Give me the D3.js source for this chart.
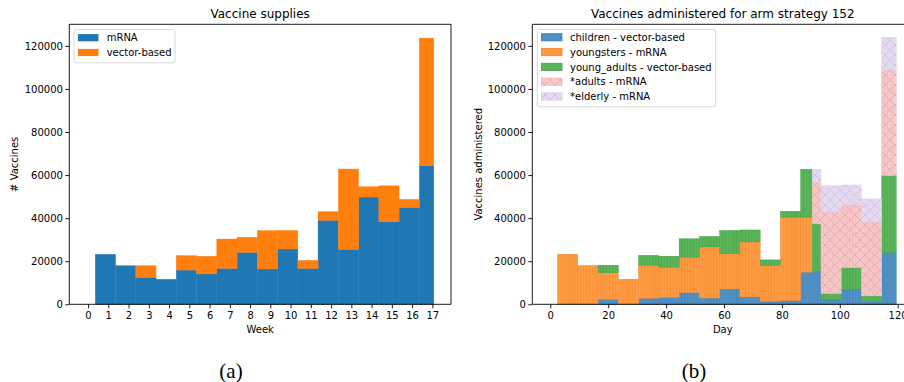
<!DOCTYPE html>
<html>
<head>
<meta charset="utf-8">
<script src="https://cdn.jsdelivr.net/npm/d3@7"></script>
<style>
  html, body { margin: 0; padding: 0; background: #fff; }
  svg { display: block; }
  text { font-family: "DejaVu Sans", sans-serif; fill: #000; }
</style>
</head>
<body>
<svg id="fig" width="904" height="382"></svg>
<script>
// ---- Weekly vaccine supplies (panel a) ----
const weeks = d3.range(1, 18);                 // supply weeks 1..17
const weekTicks = d3.range(0, 18);
const supplyMRNA   = [23200, 17900, 12500, 11600, 15900, 14100, 16700, 24100, 16400,
                      25700, 16700, 39000, 25500, 49800, 38300, 45000, 64300];
const supplyVector = [0, 0, 5400, 0, 6700, 8200, 13600, 7000, 17800,
                      8600, 3700, 4000, 37300, 4800, 16700, 3700, 59300];
const lastDay = 119;

// ---- Daily vaccines administered (panel b), constant over each period ----
const periodStart  = [3, 10, 17, 24, 31, 38, 45, 52, 59, 66, 73, 80, 87, 91, 94, 101, 108, 115];
const children     = [0, 0, 2300, 0, 2800, 3200, 5400, 2900, 7100, 3400, 1400, 1700, 14900, 15100, 2000, 7000, 1300, 24000];
const youngsters   = [23200, 17900, 12400, 11600, 15400, 14100, 16500, 23800, 16400, 25600, 16700, 38800, 25600, 0, 0, 0, 0, 0];
const youngAdults  = [0, 0, 3400, 0, 4500, 5000, 8500, 4700, 10700, 5500, 2500, 2600, 22100, 22200, 3000, 10000, 2600, 35700];
const adults       = [0, 0, 0, 0, 0, 0, 0, 0, 0, 0, 0, 0, 0, 19300, 37900, 29100, 34300, 49000];
const elderly      = [0, 0, 0, 0, 0, 0, 0, 0, 0, 0, 0, 0, 0, 6000, 12100, 9300, 10700, 15200];
const groupNames   = ["children - vector-based", "youngsters - mRNA", "young_adults - vector-based",
                      "*adults - mRNA", "*elderly - mRNA"];
const yTicks = [0, 20000, 40000, 60000, 80000, 100000, 120000];
const dayTicks = [0, 20, 40, 60, 80, 100, 120];

const svg = d3.select("#fig");
const defs = svg.append("defs");

// cross hatches for the starred groups
function hatch(id, bg, line) {
  const p = defs.append("pattern").attr("id", id)
    .attr("patternUnits", "userSpaceOnUse").attr("width", 10).attr("height", 10);
  p.append("rect").attr("width", 10).attr("height", 10).attr("fill", bg);
  p.append("path").attr("d", "M0,0L10,10M10,0L0,10M-1,9L1,11M9,-1L11,1")
    .attr("stroke", line).attr("stroke-width", 0.8).attr("fill", "none");
}
hatch("hatchAdults", "#f6caca", "#e9a3a3");
hatch("hatchElderly", "#e6dcf0", "#cdb9e2");

const groupStyle = [
  { fill: "#4f91c4", edge: "#3a7db3" },
  { fill: "#ff9a40", edge: "#f0862a" },
  { fill: "#5ab55a", edge: "#3f9e3f" },
  { fill: "url(#hatchAdults)", edge: "#eeb3b3" },
  { fill: "url(#hatchElderly)", edge: "#dccdea" }
];

// ---- common axes helpers ----
const yTop = 24.3, yBot = 304.3;
const y = d3.scaleLinear().domain([0, 130000]).range([yBot, yTop]);

function frame(g, x0, x1, sides) {
  const lines = {
    left:   [x0, yTop, x0, yBot],
    right:  [x1, yTop, x1, yBot],
    top:    [x0, yTop, x1, yTop],
    bottom: [x0, yBot, x1, yBot]
  };
  sides.forEach(s => {
    const l = lines[s];
    g.append("line").attr("x1", l[0]).attr("y1", l[1]).attr("x2", l[2]).attr("y2", l[3])
      .attr("stroke", "#000").attr("stroke-width", 0.9);
  });
}

function styleAxis(g) {
  g.select(".domain").remove();
  g.selectAll(".tick line").attr("stroke", "#000").attr("stroke-width", 0.9);
  g.selectAll(".tick text").attr("font-size", 10).attr("fill", "#000")
    .attr("font-family", "DejaVu Sans, sans-serif");
}

function legend(g, x, yb, w, items, patchX, textX) {
  const h = items.length * 14.8 + 3.5;
  g.append("rect").attr("x", x).attr("y", yb).attr("width", w).attr("height", h)
    .attr("rx", 2.5).attr("fill", "#fff").attr("fill-opacity", 0.85)
    .attr("stroke", "#d5d5d5").attr("stroke-width", 0.9);
  items.forEach((it, i) => {
    const cy = yb + 8 + i * 14.8;
    g.append("rect").attr("x", patchX).attr("y", cy - 3.6).attr("width", 20.5).attr("height", 7.2)
      .attr("fill", it.fill).attr("stroke", it.edge || "none").attr("stroke-width", 0.8);
    g.append("text").attr("x", textX).attr("y", cy).attr("dy", "0.36em")
      .attr("font-size", 10).text(it.label);
  });
}

// ================= Panel (a): weekly supplies =================
{
  const x0 = 69.3, x1 = 451;
  const x = d3.scaleLinear().domain([-0.926, 17.92]).range([x0, x1]);
  const g = svg.append("g");

  const rows = weeks.map((w, i) => {
    const first = 7 * w - 4, last = Math.min(7 * w + 2, lastDay);
    return { a: (first - 0.5) / 7, b: (last + 0.5) / 7, m: supplyMRNA[i], v: supplyVector[i] };
  });

  g.selectAll("rect.m").data(rows).join("rect").attr("class", "m")
    .attr("x", d => x(d.a)).attr("width", d => x(d.b) - x(d.a))
    .attr("y", d => y(d.m)).attr("height", d => y(0) - y(d.m))
    .attr("fill", "#1f77b4").attr("stroke", "#1f77b4").attr("stroke-width", 0.4);
  g.selectAll("rect.v").data(rows.filter(d => d.v > 0)).join("rect").attr("class", "v")
    .attr("x", d => x(d.a)).attr("width", d => x(d.b) - x(d.a))
    .attr("y", d => y(d.m + d.v)).attr("height", d => y(d.m) - y(d.m + d.v))
    .attr("fill", "#ff7f0e").attr("stroke", "#ff7f0e").attr("stroke-width", 0.4);

  frame(g, x0, x1, ["left", "right", "top", "bottom"]);

  g.append("g").attr("transform", `translate(0,${yBot})`)
    .call(d3.axisBottom(x).tickValues(weekTicks).tickFormat(d3.format("d")).tickSize(4).tickPadding(3.6))
    .call(styleAxis);
  g.append("g").attr("transform", `translate(${x0},0)`)
    .call(d3.axisLeft(y).tickValues(yTicks).tickFormat(d3.format("d")).tickSize(4).tickPadding(2.4))
    .call(styleAxis);

  g.append("text").attr("x", (x0 + x1) / 2).attr("y", 18).attr("text-anchor", "middle")
    .attr("font-size", 12).text("Vaccine supplies");
  g.append("text").attr("x", (x0 + x1) / 2).attr("y", 333).attr("text-anchor", "middle")
    .attr("font-size", 10).text("Week");
  g.append("text").attr("transform", `translate(17.5,${(yTop + yBot) / 2}) rotate(-90)`)
    .attr("text-anchor", "middle").attr("font-size", 10).text("# Vaccines");

  legend(g, 74, 29.7, 101, [
    { label: "mRNA", fill: "#1f77b4" },
    { label: "vector-based", fill: "#ff7f0e" }
  ], 78, 106.7);
}

// ================= Panel (b): daily administrations =================
{
  const x0 = 532.3, x1 = 913.3;
  const x = d3.scaleLinear().domain([-6.22, 125.4]).range([x0, x1]);
  const g = svg.append("g");
  const series = [children, youngsters, youngAdults, adults, elderly];

  // expand periods to single days
  const days = [];
  periodStart.forEach((s, p) => {
    const e = p + 1 < periodStart.length ? periodStart[p + 1] - 1 : lastDay;
    for (let d = s; d <= e; d++) days.push({ day: d, vals: series.map(a => a[p]) });
  });
  const stacked = d3.stack().keys(d3.range(5)).value((d, k) => d.vals[k])(days);

  stacked.forEach((layer, k) => {
    g.append("g").selectAll("rect").data(layer.filter(d => d[1] > d[0])).join("rect")
      .attr("x", d => x(d.data.day - 0.5)).attr("width", d => x(d.data.day + 0.5) - x(d.data.day - 0.5))
      .attr("y", d => y(d[1])).attr("height", d => y(d[0]) - y(d[1]))
      .attr("fill", groupStyle[k].fill)
      .attr("stroke", groupStyle[k].edge).attr("stroke-width", 0.45);
  });

  frame(g, x0, x1, ["left", "top", "bottom"]);

  g.append("g").attr("transform", `translate(0,${yBot})`)
    .call(d3.axisBottom(x).tickValues(dayTicks).tickFormat(d3.format("d")).tickSize(4).tickPadding(3.6))
    .call(styleAxis);
  g.append("g").attr("transform", `translate(${x0},0)`)
    .call(d3.axisLeft(y).tickValues(yTicks).tickFormat(d3.format("d")).tickSize(4).tickPadding(2.4))
    .call(styleAxis);

  g.append("text").attr("x", (x0 + x1) / 2).attr("y", 18).attr("text-anchor", "middle")
    .attr("font-size", 12).text("Vaccines administered for arm strategy 152");
  g.append("text").attr("x", (x0 + x1) / 2).attr("y", 333).attr("text-anchor", "middle")
    .attr("font-size", 10).text("Day");
  g.append("text").attr("transform", `translate(482,${(yTop + yBot) / 2}) rotate(-90)`)
    .attr("text-anchor", "middle").attr("font-size", 10).text("Vaccines administered");

  legend(g, 537.3, 29.3, 178.4, groupNames.map((n, k) => ({
    label: n, fill: groupStyle[k].fill, edge: groupStyle[k].edge
  })), 541.5, 570);
}

// ---- sub-figure captions ----
svg.append("text").attr("x", 231).attr("y", 378).attr("text-anchor", "middle")
  .style("font-family", "'Liberation Serif', serif").attr("font-size", 21).text("(a)");
svg.append("text").attr("x", 694).attr("y", 378).attr("text-anchor", "middle")
  .style("font-family", "'Liberation Serif', serif").attr("font-size", 21).text("(b)");
</script>
</body>
</html>
